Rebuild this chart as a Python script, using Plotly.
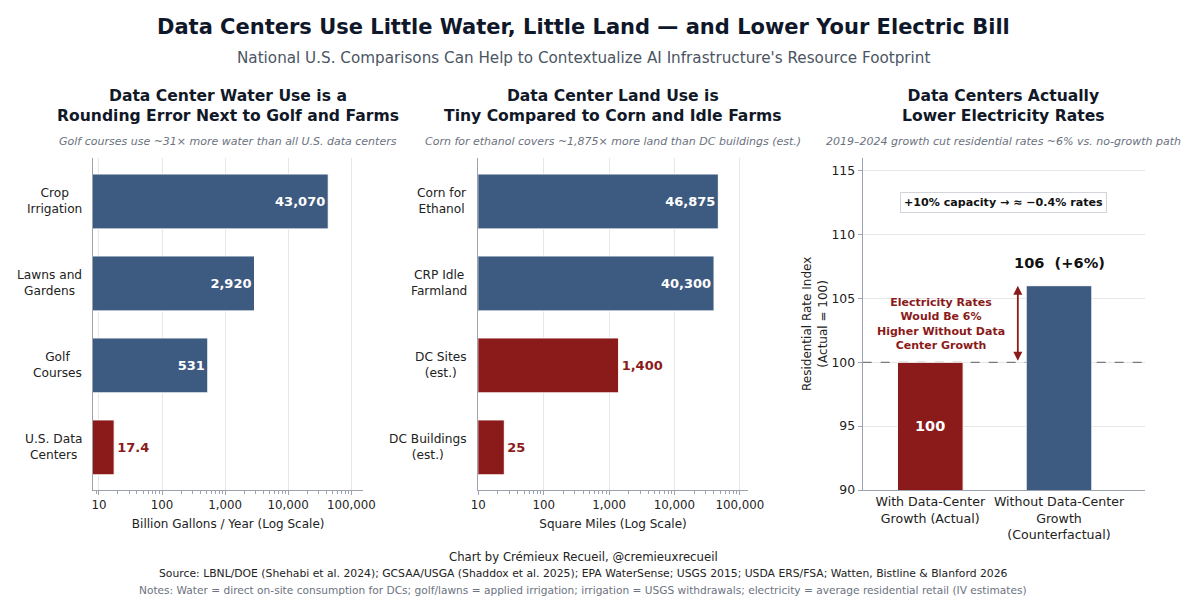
import plotly.graph_objects as go

# the page has an 8px body margin, so the figure is 8px smaller and all
# reference pixel positions are shifted by that offset
OFF = 8
W, H = 1200 - OFF, 615 - OFF

# --- data ---
water_cats = ["Crop<br>Irrigation", "Lawns and<br>Gardens", "Golf<br>Courses", "U.S. Data<br>Centers"]
water_vals = [43070, 2920, 531, 17.4]
water_is_dc = [False, False, False, True]

land_cats = ["Corn for<br>Ethanol", "CRP Idle<br>Farmland", "DC Sites<br>(est.)", "DC Buildings<br>(est.)"]
land_vals = [46875, 40300, 1400, 25]
land_is_dc = [False, False, True, True]

rate_cats = ["With Data-Center<br>Growth (Actual)", "Without Data-Center<br>Growth<br>(Counterfactual)"]
rate_vals = [100, 106]

log_ticks = [10, 100, 1000, 10000, 100000]
log_ticktext = ["10", "100", "1,000", "10,000", "100,000"]

BLUE = "#3d5a80"
RED = "#8b1a1a"
GRID = "#e6e6e6"
AXIS = "#9ca3af"
FONT = "DejaVu Sans"


def px_x(p):
    return (p - OFF) / W


def px_y(p):
    return 1 - (p - OFF) / H


def fmt(v):
    return f"{v:,}"


def bar_trace(cats, vals, is_dc, xa, ya):
    colors = [RED if d else BLUE for d in is_dc]
    return go.Bar(
        x=vals, y=cats, orientation="h", xaxis=xa, yaxis=ya,
        marker=dict(color=colors, line=dict(color="white", width=1)),
        width=0.67,
        text=[fmt(v) for v in vals],
        textposition=["outside" if d else "inside" for d in is_dc],
        insidetextanchor="end",
        insidetextfont=dict(color="white", size=13, family=FONT, weight="bold"),
        outsidetextfont=dict(color=RED, size=13, family=FONT, weight="bold"),
        cliponaxis=False, showlegend=False, hoverinfo="skip",
    )


fig = go.Figure()
fig.add_trace(bar_trace(water_cats, water_vals, water_is_dc, "x", "y"))
fig.add_trace(bar_trace(land_cats, land_vals, land_is_dc, "x2", "y2"))
fig.add_trace(go.Bar(
    x=rate_cats, y=rate_vals, xaxis="x3", yaxis="y3", width=0.51,
    marker=dict(color=[RED, BLUE], line=dict(color="white", width=1)),
    showlegend=False, hoverinfo="skip",
))

ydom = [px_y(490), px_y(158)]
d1 = [px_x(93), px_x(363.3)]
d2 = [px_x(478.3), px_x(747.7)]
d3 = [px_x(862.7), px_x(1145)]
x3_range = [-0.525, 1.668]

TICKF = dict(size=11.8, color="#222", family=FONT)
CATF = dict(size=12.2, color="#222", family=FONT)

log_axis = dict(
    type="log", tickvals=log_ticks, ticktext=log_ticktext,
    showgrid=True, gridcolor=GRID, gridwidth=1,
    showline=True, linecolor=AXIS, linewidth=1.2,
    ticks="outside", ticklen=4, tickcolor=AXIS,
    minor=dict(ticks="outside", ticklen=2.5, tickcolor=AXIS, showgrid=False, dtick="D1"),
    tickfont=TICKF, zeroline=False, fixedrange=True, automargin=False,
)
cat_axis = dict(
    showgrid=False, showline=True, linecolor=AXIS, linewidth=1.2,
    ticks="", showticklabels=False, range=[3.52, -0.53], domain=ydom, automargin=False,
)

fig.update_layout(
    width=W, height=H, paper_bgcolor="white", plot_bgcolor="white",
    margin=dict(l=0, r=0, t=0, b=0, autoexpand=False),
    font=dict(family=FONT, color="#222"),
    bargap=0.3,
    xaxis=dict(log_axis, domain=d1, range=[0.905, 5.19], anchor="y",
               title=dict(text="Billion Gallons / Year (Log Scale)", font=dict(size=12), standoff=8)),
    yaxis=dict(cat_axis, anchor="x"),
    xaxis2=dict(log_axis, domain=d2, range=[1.0, 5.12], anchor="y2",
                title=dict(text="Square Miles (Log Scale)", font=dict(size=12), standoff=8)),
    yaxis2=dict(cat_axis, anchor="x2"),
    xaxis3=dict(domain=d3, anchor="y3", range=x3_range, showgrid=False, automargin=False,
                showline=True, linecolor=AXIS, linewidth=1.2, ticks="",
                tickfont=dict(size=12.6, color="#222", family=FONT)),
    yaxis3=dict(domain=ydom, anchor="x3", range=[90, 116], tickvals=[90, 95, 100, 105, 110, 115],
                showgrid=True, gridcolor=GRID, showline=True, linecolor=AXIS, linewidth=1.2,
                ticks="outside", ticklen=4, tickcolor=AXIS, zeroline=False, automargin=False,
                tickfont=dict(size=12.4, color="#222", family=FONT)),
)

# reference line at the actual rate (above the grid, below the bars)
fig.add_shape(type="line", xref="x3", yref="y3", x0=x3_range[0], x1=x3_range[1],
              y0=rate_vals[0], y1=rate_vals[0],
              line=dict(color="#7a7a7a", width=1.2, dash="dash"), layer="between")


def label(x, y, text, size, color, **kw):
    d = dict(x=x, y=y, xref="paper", yref="paper", showarrow=False, text=text,
             xanchor="center", yanchor="middle", font=dict(size=size, color=color))
    d.update(kw)
    return d


ann = []
# main titles
ann.append(label(px_x(583), px_y(27),
                 "<b>Data Centers Use Little Water, Little Land — and Lower Your Electric Bill</b>",
                 21, "#0f172a"))
ann.append(label(px_x(583), px_y(58),
                 "National U.S. Comparisons Can Help to Contextualize AI Infrastructure's Resource Footprint",
                 15.2, "#4b5563"))

panels = [
    (d1, "Data Center Water Use is a<br>Rounding Error Next to Golf and Farms",
     "Golf courses use ~31× more water than all U.S. data centers"),
    (d2, "Data Center Land Use is<br>Tiny Compared to Corn and Idle Farms",
     "Corn for ethanol covers ~1,875× more land than DC buildings (est.)"),
    (d3, "Data Centers Actually<br>Lower Electricity Rates",
     "2019–2024 growth cut residential rates ~6% vs. no-growth path"),
]
for dom, title, sub in panels:
    cx = (dom[0] + dom[1]) / 2
    ann.append(label(cx, px_y(106), f"<b>{title}</b>", 15.6, "#111827"))
    ann.append(label(cx, px_y(141), f"<i>{sub}</i>", 11, "#6b7280"))

# category labels of the bar panels (centred multi-line, like the original)
for cats, dom, yref in [(water_cats, d1, "y"), (land_cats, d2, "y2")]:
    for c in cats:
        ann.append(dict(x=dom[0] - 9 / W, y=c, xref="paper", yref=yref, showarrow=False,
                        text=c, xanchor="right", yanchor="middle", align="center",
                        font=CATF))

# y-axis title of the electricity panel
ann.append(label(px_x(815), (ydom[0] + ydom[1]) / 2, "Residential Rate Index<br>(Actual = 100)",
                 12, "#222", textangle=-90))

# electricity panel annotations
ann.append(dict(x=0, y=(90 + rate_vals[0]) / 2, xref="x3", yref="y3", showarrow=False,
                text=f"<b>{rate_vals[0]}</b>", font=dict(size=14.5, color="white")))
ann.append(dict(x=1, y=rate_vals[1] + 1.8, xref="x3", yref="y3", showarrow=False,
                text=f"<b>{rate_vals[1]}  (+{rate_vals[1] - rate_vals[0]}%)</b>",
                font=dict(size=14.6, color="#111")))
ann.append(dict(x=0.68, y=rate_vals[1], ax=0.68, ay=rate_vals[0], xref="x3", yref="y3",
                axref="x3", ayref="y3", showarrow=True, arrowhead=2, startarrowhead=2,
                arrowside="end+start", arrowsize=1, arrowwidth=1.8, arrowcolor=RED, text=""))
ann.append(dict(x=0.086, y=103.0, xref="x3", yref="y3", showarrow=False,
                text="<b>Electricity Rates<br>Would Be 6%<br>Higher Without Data<br>Center Growth</b>",
                font=dict(size=11, color=RED)))
ann.append(dict(x=0.567, y=112.5, xref="x3", yref="y3", showarrow=False,
                text="<b>+10% capacity → ≈ −0.4% rates</b>", font=dict(size=11.1, color="#111"),
                bgcolor="white", bordercolor="#d1d5db", borderwidth=1, borderpad=3))

# footer
ann.append(label(px_x(583), px_y(557), "Chart by Crémieux Recueil, @cremieuxrecueil", 11.7, "#222"))
ann.append(label(px_x(583), px_y(573),
                 "Source: LBNL/DOE (Shehabi et al. 2024); GCSAA/USGA (Shaddox et al. 2025); EPA WaterSense; "
                 "USGS 2015; USDA ERS/FSA; Watten, Bistline &amp; Blanford 2026", 10.8, "#222"))
ann.append(label(px_x(583), px_y(590),
                 "Notes: Water = direct on-site consumption for DCs; golf/lawns = applied irrigation; "
                 "irrigation = USGS withdrawals; electricity = average residential retail (IV estimates)",
                 10.6, "#6b7280"))

fig.update_layout(annotations=ann)
fig.write_html("out.html")
